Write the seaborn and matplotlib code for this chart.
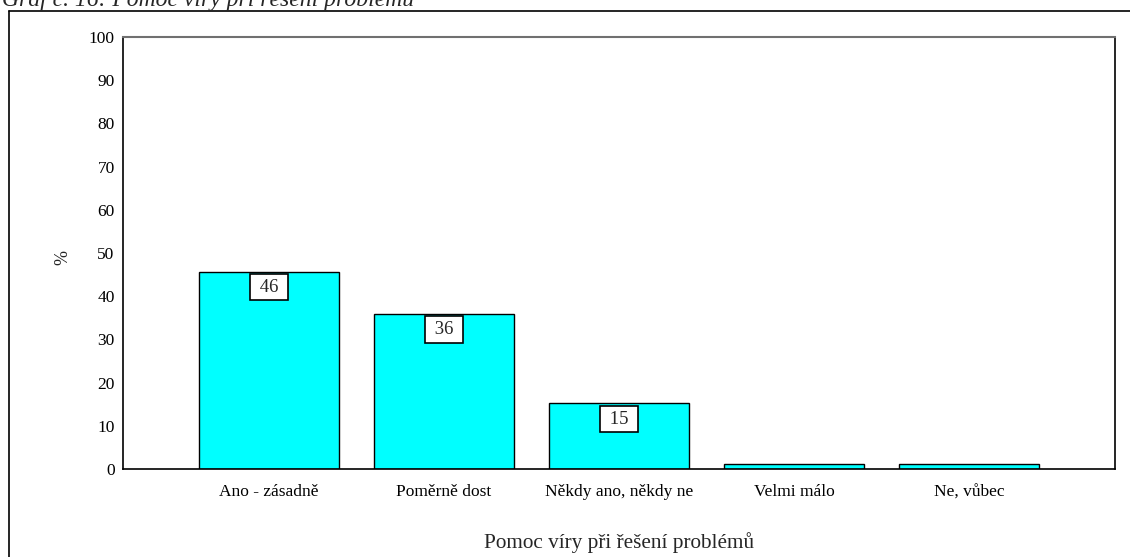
import pandas as pd
import seaborn as sns
import matplotlib.pyplot as plt
from matplotlib.lines import Line2D

kategorie = ['Ano - zásadně', 'Poměrně dost', 'Někdy ano, někdy ne', 'Velmi málo', 'Ne, vůbec']
procenta = [45.7, 35.9, 15.2, 1.1, 1.1]
popisky = ['46', '36', '15', '', '']

df = pd.DataFrame({'kategorie': kategorie, 'procenta': procenta})

sns.set_style('white')
plt.rcParams['font.family'] = ['Liberation Serif', 'DejaVu Serif']

fig = plt.figure(figsize=(11.3, 5.57), dpi=100)
ax = fig.add_axes([123 / 1130, 1 - 469 / 557, 992 / 1130, 432 / 557])

sns.barplot(data=df, x='kategorie', y='procenta', ax=ax, color='#00ffff',
            saturation=1, width=0.8, edgecolor='black', linewidth=1)

ax.set_ylim(0, 100)
ax.set_xlim(-0.834, 4.835)
ax.set_yticks(range(0, 101, 10))
ax.tick_params(axis='both', direction='out', length=4, width=1, color='black',
               labelsize=12.5, labelcolor='black', pad=2)
ax.tick_params(axis='x', pad=7)
ax.set_xlabel('Pomoc víry při řešení problémů', fontsize=15.3)
ax.set_ylabel('%', fontsize=13)
ax.xaxis.set_label_coords(0.5, -0.146)
ax.yaxis.set_label_coords(-0.052, 0.49)

for side in ['left', 'right', 'bottom']:
    ax.spines[side].set_color('black')
    ax.spines[side].set_linewidth(1.2)
ax.spines['top'].set_color('#707070')
ax.spines['top'].set_linewidth(1.5)

# popisky hodnot v bilych ramecich
for rect, txt in zip(ax.patches, popisky):
    if not txt:
        continue
    ax.annotate(' ' + txt + ' ', (rect.get_x() + rect.get_width() / 2, rect.get_height()),
                xytext=(0, -11.3), textcoords='offset points', ha='center', va='center',
                fontsize=13.5,
                bbox=dict(boxstyle='square,pad=0.25', fc='white', ec='black', lw=1.2))

# ramecek kolem grafu a titulek
fig.add_artist(Line2D([9 / 1130, 9 / 1130], [1 - 11 / 557, 0], color='black', lw=1.2))
fig.add_artist(Line2D([9 / 1130, 1], [1 - 11 / 557, 1 - 11 / 557], color='black', lw=1.2))
fig.text(2 / 1130, 1 - 6 / 557, 'Graf č. 16: Pomoc víry při řešení problému',
         fontsize=17, style='italic', va='baseline', ha='left')

fig.savefig('out.png', dpi=100)
